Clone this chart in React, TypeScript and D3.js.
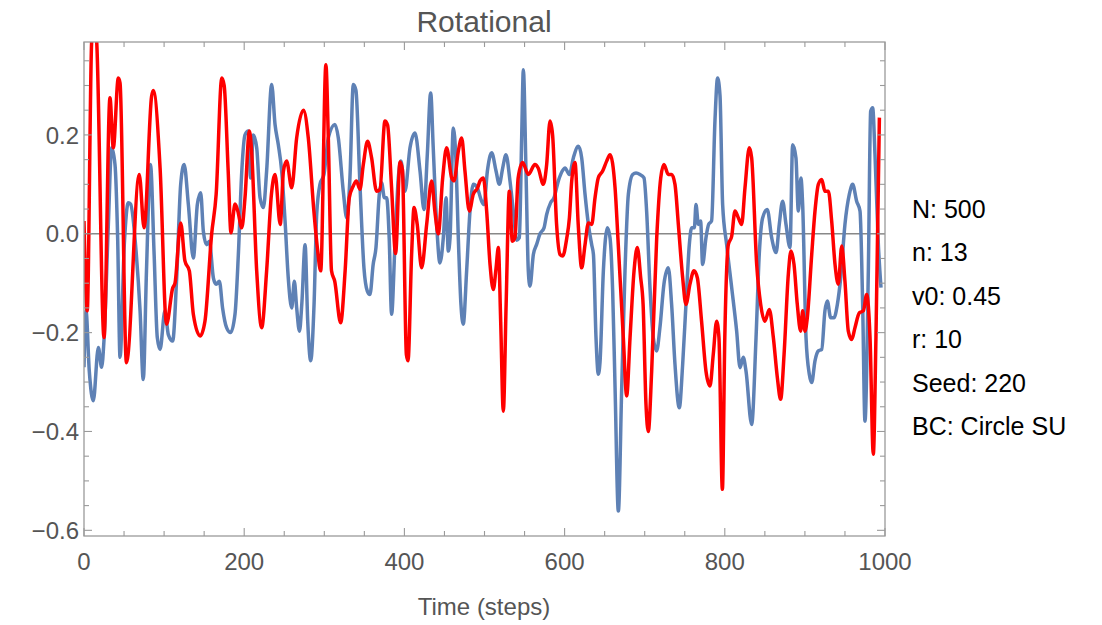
import React from "react";
import * as d3 from "d3";

// ---- data ----
const blueT = [0,2.5,6.6,11.6,17.9,22,25,30.4,34.5,38.7,42,45,50.3,55.3,58.2,65,70,74,78,83,87.4,91.5,95,101,105.3,110.7,115.7,120.7,125,130.3,136.5,141.5,145.7,149,153,156.5,161.5,165,169,173,178,183,188.5,192.7,197,201,205.2,208,211.4,215.6,219.8,224,228,234.3,238.5,242.6,246.8,251,255,259.3,262.6,265.5,269,272,276,279.3,283,287.2,290.5,294.6,299.6,305,313.3,317.5,323.7,328,332,336.2,339.5,344.5,349.5,353.7,357,361,364.5,368.7,371.6,375,377.8,381,384,388.2,392.4,395.7,400.7,407,413.2,419.5,424.5,428.6,432.8,436,440.3,444.4,448.6,452,454.8,457,461,464.4,467.3,470.6,473.5,477.7,481.9,486,491,496.4,499.4,503.6,509,514.4,518.5,522.7,526.8,531.8,536,540.2,543.5,546.4,548.5,551.8,554.7,556.8,561,565,569.3,574.3,577.6,582.6,586.8,592.2,598.4,600.5,606,611,617.2,621.3,625.5,629.7,633.8,636,639.2,642.1,644.2,648.4,653.4,656.7,660,663,667.1,671.3,675.4,679.6,685,689.2,694.1,699.1,702.4,706.6,710.7,714.9,719,724,729.5,733.6,737.8,743.2,747.4,751.5,755.7,758.6,762,764,767,769.8,772.3,776.5,779.8,783.5,787.7,791,794,797.3,802.3,808.6,814.8,819,823,826.5,833.5,839,843,847.2,853,858.5,864,868,872.2,876.4,881.4,884.7,888.8,891.8,895,897.2,901.4,905.5,908.5,912.6,916.8,921,925,928,932.2,936.3,940.5,944.7,950,955.5,959.6,964.6,968.8,972.1,975,979.2,982.1,984.6,987.5,991.7,995];
const blueV = [-0.27,-0.156,-0.278,-0.338,-0.23,-0.27,-0.214,0.019,0.174,0.14,-0.008,-0.25,-0.022,0.063,0.06,-0.035,-0.156,-0.295,-0.075,0.14,-0.035,-0.21,-0.234,-0.156,-0.204,-0.217,-0.089,0.1,0.14,0.059,-0.049,0.059,0.083,0.005,-0.022,-0.015,-0.089,-0.102,-0.096,-0.15,-0.19,-0.2,-0.163,-0.042,0.127,0.2,0.208,0.113,0.2,0.174,0.073,0.053,0.127,0.302,0.221,0.18,0.127,0.026,-0.089,-0.15,-0.096,-0.15,-0.197,-0.14,-0.022,-0.177,-0.257,-0.143,0.039,0.1,0.12,0.194,0.221,0.194,0.086,0.032,0.113,0.302,0.29,0.1,-0.069,-0.116,-0.123,-0.062,-0.028,0.08,0.103,0.073,0.073,-0.008,-0.163,-0.022,0.113,0.147,0.086,0.174,0.204,0.127,0.049,0.16,0.285,0.174,0.019,-0.059,-0.008,0.073,-0.035,-0.008,0.214,0.147,-0.008,-0.143,-0.183,-0.075,0.046,0.1,0.093,0.066,0.059,0.127,0.164,0.127,0.1,0.133,0.16,0.107,0.046,-0.013,-0.008,0.194,0.332,0.127,-0.075,-0.106,-0.042,-0.022,0,0.012,0.039,0.063,0.073,0.107,0.13,0.133,0.12,0.154,0.177,0.154,0.08,0.019,-0.022,-0.042,-0.21,-0.284,-0.26,-0.075,0.012,-0.008,-0.116,-0.311,-0.561,-0.311,-0.075,0.08,0.12,0.123,0.12,0.113,0.046,-0.109,-0.21,-0.237,-0.19,-0.102,-0.069,-0.143,-0.264,-0.352,-0.264,-0.143,-0.022,0.012,0.012,0.059,0.019,0.026,-0.062,-0.008,0.019,0.026,0.228,0.315,0.28,0.059,-0.022,-0.109,-0.197,-0.271,-0.25,-0.278,-0.386,-0.21,-0.042,0.032,0.049,-0.008,-0.038,0.019,0.066,0.019,-0.028,0.18,0.154,0.046,0.113,0.059,-0.21,-0.284,-0.301,-0.257,-0.237,-0.234,-0.156,-0.136,-0.17,-0.17,-0.143,-0.089,0.019,0.08,0.1,0.066,0.046,-0.143,-0.379,-0.075,0.248,0.255,0.16,-0.022,-0.109];

const redT = [0,4,9.6,13,15.8,25,32.4,36.6,42.8,45,53,69,75,84.4,86.5,95,103,110.7,113.6,120.7,126,131.5,136.5,145,151,159.4,165,172,175,180,183.5,188.5,192,197,201,206.5,209,215.6,221.8,228,234,238.5,245,249,253,259.3,265.5,274,280,287,291.3,295.5,302,305,309,313,320.4,326,331.2,336,340,344.5,348.7,354,359,365.3,369.5,375.7,379,384,389,394.5,397.5,402.5,404.5,409,412,416,421.5,427.8,434,438,442.3,447.8,452.7,459,462,467.3,471.5,475.6,481,486,491.4,494.4,498.6,502.7,506.9,511,514.4,517.3,520.2,523.5,527,531,534.8,538,542,547.6,554.7,563,567,573.5,577.6,581.8,585,590,594.3,597.6,602.6,606,608.9,613,617,621.3,625.5,629.7,633.8,638,642,647.5,652.5,656.7,663,667,673.3,677.5,681.7,686.7,690.8,695,698,701.6,704.5,708.7,715,720,724,729.5,733.6,737.8,742,747.4,751.5,756.5,761.5,765.7,771,776.5,781.5,785.6,789.8,792.7,797,800,804.4,808.6,812.7,817,821,825.2,830.6,833.5,839.8,844.8,850,855.6,860.6,865.6,869.7,874,879.3,882.6,886.4,890.5,894.7,897.2,900.1,903,908.5,912.6,916.8,921,925,929.3,933.4,937.6,941.7,946,950,954.2,958.4,962.5,968,973,977.1,981.3,985.4,988.7,993];
const redV = [0.026,-0.156,0.39,0.43,0.39,-0.21,0.275,0.174,0.315,0.305,-0.261,0.12,0.012,0.278,0.29,0.133,-0.183,-0.11,-0.1,0.022,-0.055,-0.075,-0.163,-0.207,-0.177,0,0.08,0.315,0.3,0.127,0.002,0.06,0.046,0.012,0.073,0.208,0.174,-0.075,-0.19,-0.075,0.08,0.12,0.019,0.127,0.147,0.093,0.194,0.25,0.194,0.046,-0.028,-0.075,0.342,0.194,-0.075,-0.096,-0.18,-0.075,0.073,0.096,0.107,0.09,0.14,0.187,0.154,0.086,0.09,0.228,0.22,0.093,-0.04,0.145,0.13,-0.245,-0.257,-0.042,0.053,0.019,-0.069,0.019,0.107,0.046,0,0.113,0.174,0.113,0.107,0.167,0.194,0.127,0.046,0.08,0.093,0.107,0.113,0.046,-0.062,-0.113,-0.07,-0.028,-0.177,-0.359,-0.143,0.086,-0.015,-0.008,0.113,0.144,0.12,0.14,0.133,0.1,0.14,0.228,0.2,0.019,-0.042,-0.045,-0.01,0.032,0.107,0.144,0.019,-0.069,-0.022,0.022,0.019,0.073,0.113,0.127,0.147,0.16,0.093,-0.022,-0.21,-0.328,-0.21,-0.075,-0.028,-0.089,-0.143,-0.345,-0.4,-0.278,-0.008,0.113,0.14,0.12,0.12,0.1,0.019,-0.089,-0.143,-0.102,-0.075,-0.089,-0.177,-0.278,-0.308,-0.244,-0.177,-0.21,-0.517,-0.21,-0.022,-0.005,0.046,0.032,0.019,0.093,0.174,0.154,-0.062,-0.143,-0.177,-0.153,-0.21,-0.291,-0.335,-0.244,-0.082,-0.035,-0.062,-0.143,-0.197,-0.156,-0.197,-0.17,-0.042,0.046,0.1,0.11,0.086,0.086,0.026,-0.062,-0.102,-0.025,-0.096,-0.197,-0.214,-0.19,-0.16,-0.156,-0.123,-0.21,-0.446,-0.21,0.235];

const xMajorTicks = [0, 200, 400, 600, 800, 1000];
const yMajorTicks = [-0.6, -0.4, -0.2, 0.0, 0.2];
const legendLines = ["N: 500", "n: 13", "v0: 0.45", "r: 10", "Seed: 220", "BC: Circle SU"];
const title = "Rotational";
const xLabel = "Time (steps)";

export default function App() {
  const L = 84, R = 885, T = 42, B = 536;
  const x = d3.scaleLinear().domain([0, 1000]).range([L, R]);
  const y = d3.scaleLinear().domain([-0.6115, 0.388]).range([B, T]);

  const mk = (ts: number[], vs: number[]) =>
    d3.line<number>()
      .x((_, i) => x(ts[i]))
      .y((v) => y(v))
      .curve(d3.curveMonotoneX)(vs) || "";

  const xMinor = d3.range(0, 1001, 50);
  const yMinor = d3.range(-0.6, 0.386, 0.05);
  const font = "'Liberation Sans', Arial, Helvetica, sans-serif";
  const frameCol = "#9a9a9a";
  const labelCol = "#555";

  const isMajorX = (t: number) => Math.abs(t % 200) < 1e-6;
  const isMajorY = (v: number) => yMajorTicks.some((m) => Math.abs(m - v) < 1e-6);

  return (
    <svg width={1102} height={625} style={{ position: "absolute", left: 0, top: 0, background: "#fff" }}>
      <defs>
        <clipPath id="plotclip">
          <rect x={L} y={T} width={R - L} height={B - T} />
        </clipPath>
      </defs>
      <rect x={0} y={0} width={1102} height={625} fill="#fff" />
      <text x={484} y={32} textAnchor="middle" fontFamily={font} fontSize={30} fill={labelCol}>{title}</text>

      {/* zero axis */}
      <line x1={L} x2={R} y1={y(0)} y2={y(0)} stroke="#888" strokeWidth={1.3} />

      {/* series */}
      <g clipPath="url(#plotclip)">
        <path d={mk(blueT, blueV)} fill="none" stroke="#5E81B5" strokeWidth={3.5} strokeLinejoin="round" />
        <path d={mk(redT, redV)} fill="none" stroke="#FF0000" strokeWidth={3.5} strokeLinejoin="round" />
      </g>

      {/* frame */}
      <rect x={L} y={T} width={R - L} height={B - T} fill="none" stroke={frameCol} strokeWidth={1.3} />

      {/* x ticks */}
      {xMinor.map((t) => {
        const len = isMajorX(t) ? 8 : 5;
        return (
          <g key={"xt" + t}>
            <line x1={x(t)} x2={x(t)} y1={B} y2={B - len} stroke={frameCol} strokeWidth={1.1} />
            <line x1={x(t)} x2={x(t)} y1={T} y2={T + len} stroke={frameCol} strokeWidth={1.1} />
          </g>
        );
      })}
      {/* y ticks */}
      {yMinor.map((v) => {
        const len = isMajorY(v) ? 8 : 5;
        return (
          <g key={"yt" + v.toFixed(2)}>
            <line x1={L} x2={L + len} y1={y(v)} y2={y(v)} stroke={frameCol} strokeWidth={1.1} />
            <line x1={R} x2={R - len} y1={y(v)} y2={y(v)} stroke={frameCol} strokeWidth={1.1} />
          </g>
        );
      })}

      {xMajorTicks.map((t) => (
        <text key={"xl" + t} x={x(t)} y={570} textAnchor="middle" fontFamily={font} fontSize={24} fill={labelCol}>{t}</text>
      ))}
      {yMajorTicks.map((v) => (
        <text key={"yl" + v} x={79} y={y(v)} dy="0.36em" textAnchor="end" fontFamily={font} fontSize={24} fill={labelCol}>
          {v < 0 ? "\u2212" + Math.abs(v).toFixed(1) : v.toFixed(1)}
        </text>
      ))}

      <text x={484} y={615} textAnchor="middle" fontFamily={font} fontSize={24} fill={labelCol}>{xLabel}</text>

      {legendLines.map((s, i) => (
        <text key={"lg" + i} x={912} y={218 + i * 43.4} fontFamily={font} fontSize={25} fill="#000">{s}</text>
      ))}
    </svg>
  );
}
